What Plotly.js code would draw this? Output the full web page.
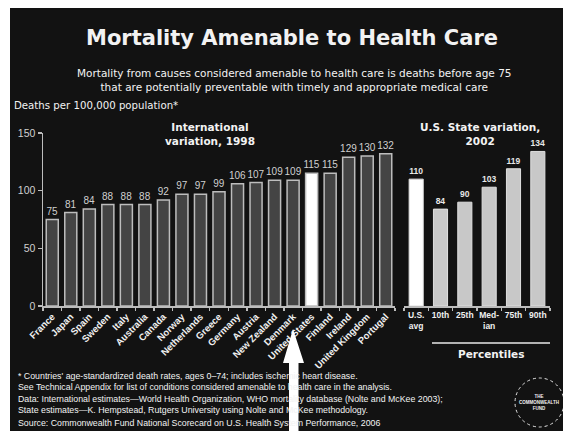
<!DOCTYPE html>
<html>
<head>
<meta charset="utf-8">
<script src="https://cdn.plot.ly/plotly-3.0.1.min.js"></script>
<style>
html,body{margin:0;padding:0;background:#ffffff;width:563px;height:431px;overflow:hidden;}
#chart{position:absolute;left:10px;top:8px;width:553px;height:423px;}
</style>
</head>
<body>
<div id="chart"></div>
<script>
// ---- data ----
const countries = ["France","Japan","Spain","Sweden","Italy","Australia","Canada","Norway","Netherlands","Greece","Germany","Austria","New Zealand","Denmark","United States","Finland","Ireland","United Kingdom","Portugal"];
const countryValues = [75,81,84,88,88,88,92,97,97,99,106,107,109,109,115,115,129,130,132];
const stateLabels = ["U.S.<br>avg","10th","25th","Med-<br>ian","75th","90th"];
const stateValues = [110,84,90,103,119,134];
const highlightCountry = "United States";
const highlightState = "U.S.<br>avg";

// ---- helpers: page pixel -> paper coords ----
const DIVX = 10, DIVY = 8, ML = 33, MT = 125, PW = 507, PH = 173;
function px(x){ return (x - DIVX - ML) / PW; }
function py(y){ return (MT + PH + DIVY - y) / PH; }

const FONT = "Liberation Sans, Arial, sans-serif";
const DJ = "DejaVu Sans, sans-serif";

const countryColors = countries.map(c => c === highlightCountry ? "#ffffff" : "#444444");
const stateColors = stateLabels.map(c => c === highlightState ? "#ffffff" : "#c8c8c8");

const traces = [
  {
    type: "bar", x: countries, y: countryValues, xaxis: "x", yaxis: "y",
    width: 0.65,
    marker: {color: countryColors, line: {color: "#bdbdbd", width: 1.5}},
    text: countryValues.map(String), textposition: "outside", constraintext: "none",
    textfont: {family: FONT, size: 10, color: "#d0d0d0"},
    cliponaxis: false, hoverinfo: "skip"
  },
  {
    type: "bar", x: stateLabels, y: stateValues, xaxis: "x2", yaxis: "y",
    width: 0.58,
    marker: {color: stateColors, line: {color: "#e0e0e0", width: 1}},
    text: stateValues.map(String), textposition: "outside", constraintext: "none",
    textfont: {family: FONT, size: 8.5, color: "#e8e8e8", weight: "bold"},
    cliponaxis: false, hoverinfo: "skip"
  }
];

const ann = [];
function addText(text, x, y, font, opts){
  ann.push(Object.assign({
    text: text, xref: "paper", yref: "paper", x: px(x), y: py(y),
    xanchor: "center", yanchor: "middle", showarrow: false,
    font: Object.assign({family: FONT, color: "#f2f2f2"}, font)
  }, opts || {}));
}
addText("Mortality Amenable to Health Care", 292, 38, {family: DJ, size: 21, weight: "bold"});
addText("Mortality from causes considered amenable to health care is deaths before age 75<br>that are potentially preventable with timely and appropriate medical care", 294, 80, {family: DJ, size: 10.5});
addText("Deaths per 100,000 population*", 12, 106, {family: DJ, size: 10.2}, {xanchor: "left"});
addText("International<br>variation, 1998", 210, 134, {family: DJ, size: 10.5, weight: "bold"});
addText("U.S. State variation,<br>2002", 480, 134, {family: DJ, size: 10.5, weight: "bold"});
addText("Percentiles", 491, 354, {family: DJ, size: 10.5, weight: "bold"});
addText("* Countries' age-standardized death rates, ages 0–74; includes ischemic heart disease.<br>See Technical Appendix for list of conditions considered amenable to health care in the analysis.<br>Data: International estimates—World Health Organization, WHO mortality database (Nolte and McKee 2003);<br>State estimates—K. Hempstead, Rutgers University using Nolte and McKee methodology.", 16, 393, {size: 8.8}, {xanchor: "left", align: "left"});
addText("Source: Commonwealth Fund National Scorecard on U.S. Health System Performance, 2006", 16, 423, {size: 8.8}, {xanchor: "left"});
addText("THE<br>COMMONWEALTH<br>FUND", 539, 402, {size: 4.5, weight: "bold"});

const shapes = [
  {type: "line", xref: "paper", yref: "paper", x0: px(432), x1: px(550), y0: py(343), y1: py(343),
   line: {color: "#e8e8e8", width: 1.5}},
  {type: "circle", xref: "paper", yref: "paper", x0: px(515), x1: px(564), y0: py(378), y1: py(427),
   line: {color: "#e8e8e8", width: 1, dash: "dot"}},
  {type: "path", xref: "paper", yref: "paper", layer: "above",
   path: "M" + px(293) + "," + py(329) + " L" + px(304) + "," + py(363) + " L" + px(298.5) + "," + py(363) +
         " L" + px(298.5) + "," + py(432) + " L" + px(289) + "," + py(432) + " L" + px(289) + "," + py(363) +
         " L" + px(283) + "," + py(363) + " Z",
   fillcolor: "#ffffff", line: {width: 0}}
];

const axisCommon = {
  showgrid: false, zeroline: false, showline: true, linecolor: "#bdbdbd", linewidth: 1.5,
  ticks: "outside", tickcolor: "#bdbdbd", ticklen: 3, tickwidth: 1.5, fixedrange: true
};

const layout = {
  width: 553, height: 423,
  margin: {l: ML, r: 553 - ML - PW, t: MT, b: 423 - MT - PH},
  paper_bgcolor: "#121212", plot_bgcolor: "#121212",
  showlegend: false,
  xaxis: Object.assign({}, axisCommon, {
    domain: [0, (395 - DIVX - ML) / PW], anchor: "y", type: "category",
    tickson: "boundaries", tickangle: -45,
    tickfont: {family: FONT, size: 9.5, color: "#f0f0f0", weight: "bold"}
  }),
  xaxis2: Object.assign({}, axisCommon, {
    domain: [(404 - DIVX - ML) / PW, 1], anchor: "y", type: "category",
    tickson: "boundaries", tickangle: 0,
    tickfont: {family: FONT, size: 8.5, color: "#f0f0f0", weight: "bold"}
  }),
  yaxis: Object.assign({}, axisCommon, {
    range: [0, 150], tickvals: [0, 50, 100, 150], ticklen: 4,
    tickfont: {family: FONT, size: 10.5, color: "#d0d0d0"}
  }),
  annotations: ann,
  shapes: shapes
};

Plotly.newPlot("chart", traces, layout, {displayModeBar: false, staticPlot: true});
</script>
</body>
</html>
